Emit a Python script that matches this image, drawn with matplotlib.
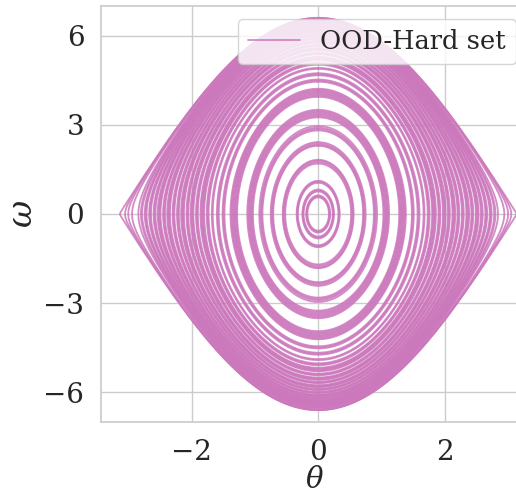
import numpy as np
import matplotlib
matplotlib.use("Agg")
import matplotlib.pyplot as plt
import seaborn as sns

# Amplitudes (max |theta|, rad) of the pendulum orbits
amplitudes = [0.17, 0.18, 0.19, 0.23, 0.24, 0.25, 0.32, 0.33, 0.34,
              0.52, 0.535, 0.55, 0.56, 0.71, 0.72, 0.735, 0.75,
              0.88, 0.895, 0.91, 0.93, 1.03, 1.045, 1.06, 1.075, 1.09, 1.105, 1.12,
              1.28, 1.295, 1.31, 1.325, 1.34, 1.355, 1.37, 1.385,
              1.48, 1.495, 1.51, 1.57, 1.585, 1.60, 1.665, 1.68,
              1.73, 1.745, 1.76, 1.80, 1.815, 1.83, 1.845, 1.86,
              1.90, 1.915, 1.93, 1.97, 1.985, 2.00, 2.015,
              2.05, 2.065, 2.08, 2.12, 2.135, 2.15, 2.165,
              2.20, 2.215, 2.23, 2.27, 2.285, 2.30,
              2.34, 2.355, 2.37, 2.385, 2.42, 2.435, 2.45,
              2.49, 2.505, 2.52, 2.535, 2.57, 2.585, 2.60,
              2.64, 2.655, 2.67, 2.71, 2.725, 2.74, 2.78, 2.80, 2.84,
              2.94, 3.00, 3.05, 3.13]
stiffness = 10.9          # g/L of the pendulum
series_label = "OOD-Hard set"
xticks = [-2, 0, 2]
yticks = [-6, -3, 0, 3, 6]

sns.set_theme(style="whitegrid")
plt.rcParams['font.family'] = ['DejaVu Serif']
plt.rcParams['mathtext.fontset'] = 'dejavuserif'

fig = plt.figure(figsize=(5.16, 4.93), dpi=100)
ax = fig.add_axes([101/516, 71/493, 428/516, 416/493])

color = "#cc78bc"
u = np.linspace(0, 2*np.pi, 1500)
for i, a in enumerate(amplitudes):
    s = np.sin(a/2)
    th = 2*np.arcsin(s*np.sin(u))
    om = 2*np.sqrt(stiffness)*s*np.cos(u)
    ax.plot(th, om, color=color, lw=1.3, alpha=0.85,
            label=series_label if i == 0 else None)

ax.set_xlim(-3.43, 3.33)
ax.set_ylim(-7, 7)
ax.set_xticks(xticks)
ax.set_yticks(yticks)
ax.tick_params(labelsize=20, pad=6)
ax.set_xlabel(r"$\theta$", fontsize=21)
ax.xaxis.set_label_coords(0.5, -0.105)
ax.set_ylabel(r"$\omega$", fontsize=24)
ax.yaxis.set_label_coords(-0.145, 0.5)
for sp in ax.spines.values():
    sp.set_color("#cccccc")
ax.legend(loc="upper right", fontsize=18.5, frameon=True)

fig.savefig("out.png", dpi=100)
